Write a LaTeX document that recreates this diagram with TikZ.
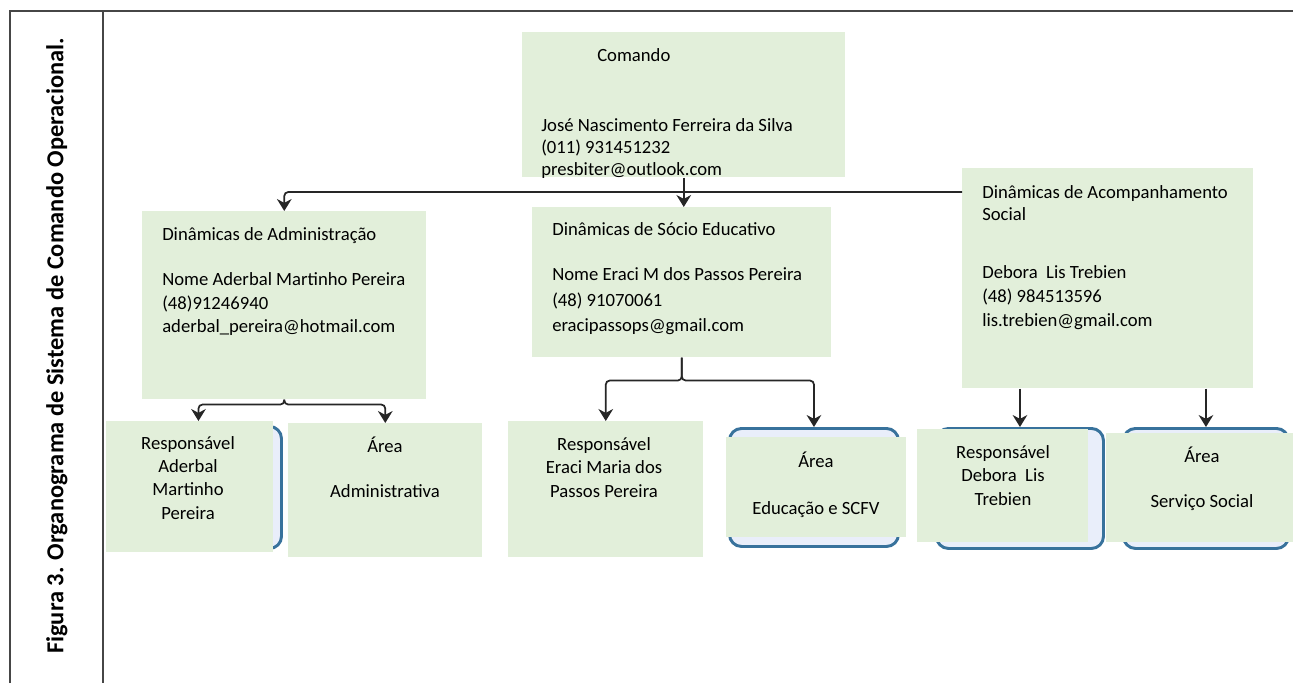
\documentclass[tikz,border=0pt]{standalone}
\usepackage{fontspec}
\setmainfont{Carlito}
\usepackage{tikz}
\usetikzlibrary{arrows.meta,positioning}
\definecolor{orggreen}{RGB}{226,239,218}
\definecolor{orgblue}{RGB}{56,114,156}
\definecolor{orglavender}{RGB}{233,238,250}
\definecolor{orgframe}{RGB}{70,70,70}
\tikzstyle{arrow} = [line width=1.3pt,->,>={Stealth[length=9pt,width=11pt]},color=black!85,rounded corners=3pt]
\tikzstyle{greenbox} = [rectangle, anchor=north west, fill=orggreen, inner sep=0pt]
\tikzstyle{bluebox} = [rectangle, rounded corners=9pt, anchor=north west, draw=orgblue, line width=2.2pt, fill=orglavender, inner sep=0pt]
\tikzstyle{boxtext} = [anchor=base west, align=left, inner sep=0pt, font=\fontsize{14}{17.5}\selectfont]
\tikzstyle{celltext} = [anchor=base, align=center, inner sep=0pt, font=\fontsize{14}{17.5}\selectfont]

\begin{document}
\begin{tikzpicture}[x=0.75pt, y=-0.75pt]
\useasboundingbox (0,0) rectangle (1293,683);

% Table frame and caption
\draw[orgframe, line width=1.6pt] (10,683) -- (10,11) -- (1293,11);
\draw[orgframe, line width=1.6pt] (103,11) -- (103,683);
\node[rotate=90, font=\fontsize{18.3}{20}\selectfont\bfseries] (title) at (57,346) {Figura 3. Organograma de Sistema de Comando Operacional.};

% Top node (text nodes sit on the baseline of their last line)
\node[greenbox, minimum width=242.25pt, minimum height=108.75pt] (comando) at (522,32) {};
\node[boxtext] (comandotxt) at (541,175.5) {\hspace*{42pt}Comando\\[35pt]José Nascimento Ferreira da Silva\\[-1pt](011) 931451232\\[-1pt]presbiter@outlook.com};

% Second level
\node[greenbox, minimum width=213pt, minimum height=141pt] (admin) at (142,211) {};
\node[boxtext] (admintxt) at (162,332.5) {Dinâmicas de Administração\\[16.25pt]Nome Aderbal Martinho Pereira\\(48)91246940\\aderbal\_pereira@hotmail.com};

\node[greenbox, minimum width=224.25pt, minimum height=112.5pt] (socio) at (532,207) {};
\node[boxtext] (sociotxt) at (552,331.5) {Dinâmicas de Sócio Educativo\\[16.25pt]Nome Eraci M dos Passos Pereira\\[1.5pt](48) 91070061\\[1.5pt]eracipassops@gmail.com};

\node[greenbox, minimum width=218.25pt, minimum height=165pt] (acomp) at (962,168) {};
\node[boxtext] (acomptxt) at (982,326) {Dinâmicas de Acompanhamento\\[-1pt]Social\\[26pt]Debora~ Lis Trebien\\[1pt](48) 984513596\\lis.trebien@gmail.com};

% Third level: shapes behind
\node[bluebox, minimum width=124.5pt, minimum height=91.5pt] (respadmback) at (114,425) {};
\node[bluebox, minimum width=126.75pt, minimum height=88.5pt] (areasocback) at (728,427) {};
\node[bluebox, minimum width=125.25pt, minimum height=90pt] (respacpback) at (935,427) {};
\node[bluebox, minimum width=123.75pt, minimum height=90pt] (areaacpback) at (1122,427) {};

% Third level: boxes
\node[greenbox, minimum width=125.25pt, minimum height=98.25pt] (respadm) at (106,421) {};
\node[celltext] (respadmtxt) at (188,519) {Responsável\\Aderbal\\Martinho\\Pereira};
\node[greenbox, minimum width=145.5pt, minimum height=100.5pt] (areaadm) at (288,423) {};
\node[celltext] (areaadmtxt) at (385,497) {Área\\[16.25pt]Administrativa};

\node[greenbox, minimum width=146.25pt, minimum height=102pt] (respsoc) at (508,421) {};
\node[celltext] (respsoctxt) at (604,497) {Responsável\\Eraci Maria dos\\Passos Pereira};
\node[greenbox, minimum width=135pt, minimum height=75pt] (areasoc) at (726,437) {};
\node[celltext] (areasoctxt) at (816,514) {Área\\[17.75pt]Educação e SCFV};

\node[greenbox, minimum width=128.25pt, minimum height=84.75pt] (respacp) at (917,429) {};
\node[celltext] (respacptxt) at (1003,505) {Responsável\\Debora~ Lis\\Trebien};
\node[greenbox, minimum width=140.25pt, minimum height=81.75pt] (areaacp) at (1106,433) {};
\node[celltext] (areaacptxt) at (1202,507) {Área\\[16.25pt]Serviço Social};

% Connections
\coordinate (hub) at (684,192);
\draw[arrow] (comando) -- (comando |- socio.north);
\draw[arrow] (hub -| acomp.west) -| (admin.north);
\draw[arrow] (admin.south) -- ++(0,5) -| (respadmback.north |- respadm.north);
\draw[arrow] (admin.south) -- ++(0,5) -| (areaadm.north);
\draw[arrow] (socio.south) -- ++(0,23) -| (respsoc.north);
\draw[arrow] (socio.south) -- ++(0,23) -| (areasocback.north);
\draw[arrow] (respacpback.north |- acomp.south) -- (respacpback.north);
\draw[arrow] (areaacpback.north |- acomp.south) -- (areaacpback.north);

\end{tikzpicture}
\end{document}
